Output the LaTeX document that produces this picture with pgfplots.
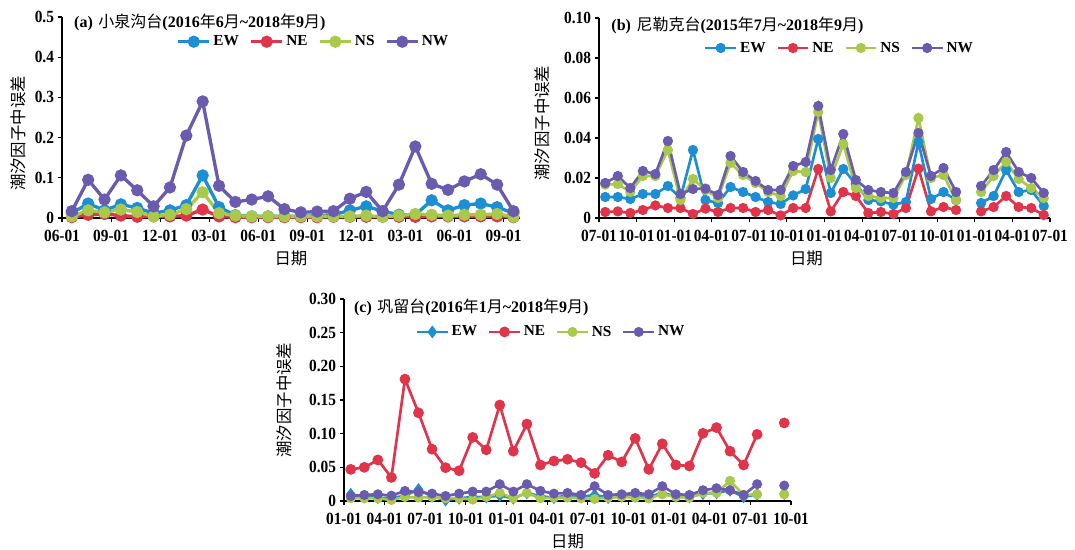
\documentclass[border=0pt]{standalone}
\usepackage{fontspec}
\setmainfont{Liberation Serif}
\newfontfamily\cjk{Noto Sans CJK SC}
\newfontfamily\tickfont[FakeStretch=0.9]{Liberation Serif}
\usepackage{pgfplots}
\pgfplotsset{compat=1.18}

\definecolor{cEW}{HTML}{1B8ED4}
\definecolor{cNE}{HTML}{E0344A}
\definecolor{cNS}{HTML}{A9C94A}
\definecolor{cNW}{HTML}{6A5BAE}

% panel title: (letter) station (start year/month ~ end year/month)
\newcommand\ttl[6]{\textbf{(#1)}\hspace{0.35em}{\cjk #2}\textbf{(#3}{\cjk 年}\textbf{#4}{\cjk 月}\textbf{\char"7E\relax #5}{\cjk 年}\textbf{#6}{\cjk 月}\textbf{)}}

\pgfplotsset{
  base/.style={
    scale only axis,
    axis lines*=left,
    axis line style={line width=0.9pt, black},
    tick align=outside,
    major tick length=3pt,
    tick style={line width=0.8pt, black},
    ticklabel style={font=\tickfont\bfseries\fontsize{12.8}{12.8}\selectfont},
    xticklabel style={yshift=-2.5pt},
    yticklabel style={xshift=0.5pt},
    label style={font=\cjk\fontsize{12.3}{12.3}\selectfont},
    xlabel={日期},
    ylabel={潮汐因子中误差},
    legend style={draw=none, fill=none, legend columns=4, anchor=center,
      font=\bfseries\fontsize{11.5}{11.5}\selectfont,
      /tikz/every even column/.append style={column sep=6pt}},
    legend image code/.code={\draw[mark repeat=2,mark phase=2]
      plot coordinates {(0pt,0pt)(11.5pt,0pt)(23pt,0pt)};},
    unbounded coords=jump,
    clip=false,
  },
  sEW/.style={color=cEW, line width=#1, mark=*, mark options={solid}},
  sNE/.style={color=cNE, line width=#1, mark=*, mark options={solid}},
  sNS/.style={color=cNS, line width=#1, mark=*, mark options={solid}},
  sNW/.style={color=cNW, line width=#1, mark=*, mark options={solid}},
}

% (a) Xiaoquangou, 2016-06 .. 2018-09, x in months from 2016-06-01
\pgfplotstableread{
x     EW     NE     NS     NW
0.6   0.012  0.002  0.004  0.017
1.6   0.036  0.008  0.019  0.095
2.6   0.019  0.010  0.014  0.046
3.6   0.034  0.006  0.021  0.106
4.6   0.025  0.003  0.015  0.069
5.6   0.012  0.004  0.004  0.029
6.6   0.019  0.004  0.008  0.076
7.6   0.032  0.006  0.022  0.205
8.6   0.106  0.021  0.064  0.290
9.6   0.027  0.004  0.012  0.080
10.6  0.007  0.002  0.006  0.040
11.6  0.004  0.002  0.004  0.046
12.6  0.004  0.002  0.004  0.054
13.6  0.004  0.002  0.004  0.022
14.6  0.004  0.002  0.004  0.014
15.6  0.006  0.002  0.004  0.016
16.6  0.008  0.003  0.004  0.017
17.6  0.019  0.003  0.004  0.048
18.6  0.029  0.003  0.006  0.065
19.6  0.017  0.003  0.003  0.017
20.6  0.008  0.003  0.006  0.083
21.6  0.008  0.003  0.010  0.178
22.6  0.044  0.004  0.008  0.085
23.6  0.019  0.004  0.006  0.070
24.6  0.032  0.004  0.008  0.091
25.6  0.036  0.004  0.008  0.109
26.6  0.027  0.004  0.010  0.083
27.6  0.012  0.002  0.003  0.017
}\tabA

% (b) Nileke, 2015-07 .. 2018-06, x in months from 2015-07-01
\pgfplotstableread{
x     EW      NE      NS      NW
0.5   0.0105  0.0030  0.0167  0.0175
1.5   0.0105  0.0033  0.0170  0.0210
2.5   0.0095  0.0025  0.0130  0.0150
3.5   0.0120  0.0040  0.0210  0.0235
4.5   0.0120  0.0063  0.0210  0.0220
5.5   0.0160  0.0050  0.0340  0.0385
6.5   0.0100  0.0050  0.0090  0.0120
7.5   0.0340  0.0020  0.0195  0.0145
8.5   0.0090  0.0047  0.0140  0.0147
9.5   0.0075  0.0030  0.0100  0.0115
10.5  0.0155  0.0050  0.0275  0.0310
11.5  0.0130  0.0050  0.0215  0.0230
12.5  0.0105  0.0030  0.0175  0.0185
13.5  0.0080  0.0040  0.0130  0.0140
14.5  0.0070  0.0013  0.0110  0.0140
15.5  0.0113  0.0050  0.0235  0.0260
16.5  0.0145  0.0050  0.0230  0.0280
17.5  0.0395  0.0245  0.0530  0.0560
18.5  0.0125  0.0033  0.0200  0.0240
19.5  0.0245  0.0130  0.0370  0.0420
20.5  0.0170  0.0110  0.0150  0.0190
21.5  0.0090  0.0025  0.0110  0.0140
22.5  0.0083  0.0030  0.0100  0.0130
23.5  0.0067  0.0020  0.0100  0.0125
24.5  0.0080  0.0050  0.0215  0.0230
25.5  0.0380  0.0247  0.0500  0.0425
26.5  0.0095  0.0033  0.0200  0.0210
27.5  0.0130  0.0055  0.0215  0.0250
28.5  0.0090  0.0040  0.0090  0.0130
29.5  nan     nan     nan     nan
30.5  0.0075  0.0033  0.0130  0.0160
31.5  0.0110  0.0055  0.0210  0.0240
32.5  0.0240  0.0110  0.0280  0.0330
33.5  0.0130  0.0055  0.0195  0.0230
34.5  0.0140  0.0050  0.0150  0.0200
35.5  0.0060  0.0015  0.0100  0.0125
}\tabB

% (c) Gongliu, 2016-01 .. 2018-09, x in months from 2016-01-01
\pgfplotstableread{
x     EW      NE      NS      NW
0.5   0.0100  0.0470  0.0040  0.0074
1.5   0.0060  0.0500  0.0040  0.0090
2.5   0.0050  0.0610  0.0040  0.0100
3.5   0.0040  0.0350  0.0015  0.0080
4.5   0.0080  0.1810  0.0060  0.0150
5.5   0.0170  0.1310  0.0050  0.0130
6.5   0.0070  0.0770  0.0060  0.0110
7.5   0.0015  0.0495  0.0040  0.0075
8.5   0.0040  0.0450  0.0040  0.0110
9.5   0.0060  0.0945  0.0020  0.0140
10.5  0.0060  0.0760  0.0060  0.0140
11.5  0.0080  0.1426  0.0120  0.0250
12.5  0.0040  0.0740  0.0040  0.0140
13.5  0.0120  0.1143  0.0120  0.0250
14.5  0.0070  0.0535  0.0040  0.0150
15.5  0.0050  0.0594  0.0050  0.0110
16.5  0.0080  0.0620  0.0050  0.0120
17.5  0.0060  0.0570  0.0040  0.0090
18.5  0.0090  0.0410  0.0030  0.0220
19.5  0.0050  0.0680  0.0050  0.0090
20.5  0.0070  0.0580  0.0060  0.0100
21.5  0.0080  0.0930  0.0050  0.0120
22.5  0.0060  0.0470  0.0040  0.0100
23.5  0.0120  0.0850  0.0100  0.0220
24.5  0.0070  0.0535  0.0060  0.0100
25.5  0.0060  0.0520  0.0050  0.0090
26.5  0.0110  0.1005  0.0120  0.0160
27.5  0.0120  0.1090  0.0120  0.0190
28.5  0.0160  0.0740  0.0300  0.0160
29.5  0.0060  0.0535  0.0090  0.0090
30.5  0.0100  0.0990  0.0100  0.0250
31.5  nan     nan     nan     nan
32.5  0.0110  0.1160  0.0100  0.0230
}\tabC

\begin{document}
\begin{tikzpicture}
\path[use as bounding box] (0pt,0pt) rectangle (806.25pt,-412.5pt);

% ---------------- (a) ----------------
\begin{axis}[base,
  at={(46.5pt,-163.5pt)}, anchor=south west,
  width=343.5pt, height=150.75pt,
  xmin=0, xmax=28, ymin=0, ymax=0.5,
  xtick={0,3,...,27},
  xticklabels={06-01,09-01,12-01,03-01,06-01,09-01,12-01,03-01,06-01,09-01},
  ytick={0,0.1,0.2,0.3,0.4,0.5},
  yticklabels={0,0.1,0.2,0.3,0.4,0.5},
  xlabel style={at={(axis description cs:0.5,-0.2)}, anchor=center},
  ylabel style={at={(axis description cs:-0.096,0.42)}, anchor=center},
  legend style={at={(axis description cs:0.55,0.877)}},
  mark size=3.3pt,
]
\addplot[sEW=2.5pt] table[x=x,y=EW]{\tabA};
\addplot[sNE=2.5pt] table[x=x,y=NE]{\tabA};
\addplot[sNS=2.5pt] table[x=x,y=NS]{\tabA};
\addplot[sNW=2.5pt] table[x=x,y=NW]{\tabA};
\legend{EW,NE,NS,NW}
\node[anchor=west, inner sep=0pt, font=\fontsize{12}{12}\selectfont]
  at (axis description cs:0.026,0.975) {\ttl{a}{小泉沟台}{2016}{6}{2018}{9}};
\end{axis}

% ---------------- (b) ----------------
\begin{axis}[base,
  at={(449.25pt,-163.5pt)}, anchor=south west,
  width=338.25pt, height=150pt,
  xmin=0, xmax=36, ymin=0, ymax=0.1,
  xtick={0,3,...,36},
  xticklabels={07-01,10-01,01-01,04-01,07-01,10-01,01-01,04-01,07-01,10-01,01-01,04-01,07-01},
  ytick={0,0.02,0.04,0.06,0.08,0.1},
  yticklabels={0,0.02,0.04,0.06,0.08,0.10},
  xlabel style={at={(axis description cs:0.46,-0.2)}, anchor=center},
  ylabel style={at={(axis description cs:-0.126,0.475)}, anchor=center},
  legend style={at={(axis description cs:0.534,0.85)}},
  mark size=2.8pt,
]
\addplot[sEW=2pt] table[x=x,y=EW]{\tabB};
\addplot[sNE=2pt] table[x=x,y=NE]{\tabB};
\addplot[sNS=2pt] table[x=x,y=NS]{\tabB};
\addplot[sNW=2pt] table[x=x,y=NW]{\tabB};
\legend{EW,NE,NS,NW}
\node[anchor=west, inner sep=0pt, font=\fontsize{12}{12}\selectfont]
  at (axis description cs:0.027,0.965) {\ttl{b}{尼勒克台}{2015}{7}{2018}{9}};
\end{axis}

% ---------------- (c) ----------------
\begin{axis}[base,
  at={(258pt,-375.75pt)}, anchor=south west,
  width=335.25pt, height=151.5pt,
  xmin=0, xmax=33, ymin=0, ymax=0.3,
  xtick={0,3,...,33},
  xticklabels={01-01,04-01,07-01,10-01,01-01,04-01,07-01,10-01,01-01,04-01,07-01,10-01},
  ytick={0,0.05,0.1,0.15,0.2,0.25,0.3},
  yticklabels={0,0.05,0.10,0.15,0.20,0.25,0.30},
  xlabel style={at={(axis description cs:0.5,-0.2)}, anchor=center},
  ylabel style={at={(axis description cs:-0.134,0.5)}, anchor=center},
  legend style={at={(axis description cs:0.464,0.837)}},
  mark size=2.7pt,
]
\addplot[sEW=2pt, mark=diamond*, mark size=3.2pt] table[x=x,y=EW]{\tabC};
\addplot[sNE=2pt, mark size=3pt] table[x=x,y=NE]{\tabC};
\addplot[sNS=2pt] table[x=x,y=NS]{\tabC};
\addplot[sNW=2pt] table[x=x,y=NW]{\tabC};
\legend{EW,NE,NS,NW}
\node[anchor=west, inner sep=0pt, font=\fontsize{12}{12}\selectfont]
  at (axis description cs:0.022,0.96) {\ttl{c}{巩留台}{2016}{1}{2018}{9}};
\end{axis}
\end{tikzpicture}
\end{document}
